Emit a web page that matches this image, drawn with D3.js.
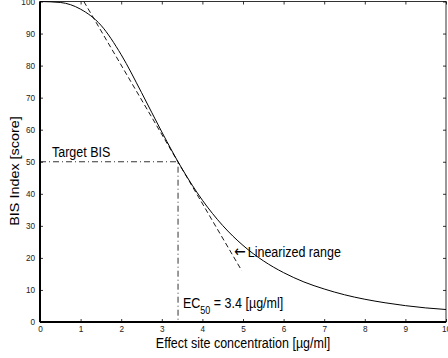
<!DOCTYPE html>
<html><head><meta charset="utf-8">
<script src="https://cdn.jsdelivr.net/npm/d3@7"></script>
<style>body{margin:0;background:#fff}svg{display:block}text{font-family:"Liberation Sans",Arial,sans-serif}</style>
</head><body>
<script>
const concentration = [0,0.5,1,1.5,2,2.5,3,3.5,4,4.5,5,5.5,6,6.5,7,7.5,8,8.5,9,9.5,10];
const bisValues = [100,99.7,97.6,92.6,83.4,71.6,59.3,47.8,38.0,30.1,23.9,19.1,15.4,12.5,10.3,8.5,7.1,6.0,5.1,4.4,3.9];
const tangentX = [1.08, 4.97];
const tangentY = [100, 16];
const ec50 = 3.4;
const targetBis = 50;
const xTicks = [0,1,2,3,4,5,6,7,8,9,10];
const yTicks = [0,10,20,30,40,50,60,70,80,90,100];

const W = 448, H = 358;
const L = 40, R = 446, T = 1.5, B = 322;
const SY = 1.15, FS = 12.5;
const svg = d3.select("body").append("svg").attr("width", W).attr("height", H);
const x = d3.scaleLinear().domain([0,10]).range([L,R]);
const y = d3.scaleLinear().domain([0,100]).range([B,T]);

// frame
svg.append("rect").attr("x",L).attr("y",T).attr("width",R-L).attr("height",B-T)
  .attr("fill","none").attr("stroke","#000").attr("stroke-width",0.8);
svg.append("line").attr("x1",L).attr("x2",R).attr("y1",B).attr("y2",B).attr("stroke","#000").attr("stroke-width",2);
svg.append("line").attr("x1",L).attr("x2",L).attr("y1",T).attr("y2",B).attr("stroke","#000").attr("stroke-width",2);

// axes
svg.append("g").attr("transform",`translate(0,${B})`)
  .call(d3.axisBottom(x).tickValues(xTicks).tickSize(-3).tickPadding(4.5).tickFormat(d3.format("d")));
svg.append("g").attr("transform",`translate(${L},0)`)
  .call(d3.axisLeft(y).tickValues(yTicks).tickSize(-3).tickPadding(5).tickFormat(d3.format("d")));
svg.append("g").attr("transform",`translate(0,${T})`)
  .call(d3.axisTop(x).tickValues(xTicks).tickSize(-3).tickFormat(""));
svg.append("g").attr("transform",`translate(${R},0)`)
  .call(d3.axisRight(y).tickValues(yTicks).tickSize(-3).tickFormat(""));
svg.selectAll(".domain").remove();
svg.selectAll(".tick line").attr("stroke","#000").attr("stroke-width",0.8);
svg.selectAll(".tick text").attr("font-size",8.2).attr("fill","#222").style("font-family","Liberation Sans, Arial, sans-serif");

// dash-dot target lines
svg.append("path").attr("d", d3.line()([[x(0),y(targetBis)],[x(ec50),y(targetBis)],[x(ec50),y(0)]]))
  .attr("fill","none").attr("stroke","#000").attr("stroke-width",0.8).attr("stroke-dasharray","6,3,1,3");

// tangent dashed
svg.append("line").attr("x1",x(tangentX[0])).attr("y1",y(tangentY[0])).attr("x2",x(tangentX[1])).attr("y2",y(tangentY[1]))
  .attr("stroke","#000").attr("stroke-width",0.9).attr("stroke-dasharray","5,3");

// curve
const pts = concentration.map((c,i)=>[c,bisValues[i]]);
svg.append("path").datum(pts).attr("fill","none").attr("stroke","#000").attr("stroke-width",1)
  .attr("d", d3.line().x(d=>x(d[0])).y(d=>y(d[1])).curve(d3.curveMonotoneX));

function txt(px, py, extra){
  return svg.append("text").attr("transform",`translate(${px},${py}) scale(1,${SY})${extra||""}`).attr("font-size",FS);
}
// annotations
txt(52,157).text("Target BIS");
const ec = txt(183,308);
ec.append("tspan").text("EC");
ec.append("tspan").attr("font-size",9).attr("dy",5).text("50");
ec.append("tspan").attr("dy",-5).text(" = 3.4 [\u00b5g/ml]");
const lin = txt(234,256.5);
lin.append("tspan").style("font-family","DejaVu Sans").attr("font-size",14).text("\u2190");
lin.append("tspan").attr("dx",2).text("Linearized range");

// axis labels
txt((L+R)/2,348).attr("text-anchor","middle").text("Effect site concentration [\u00b5g/ml]");
txt(19,171," rotate(-90)").attr("text-anchor","middle").text("BIS Index [score]");
</script>
</body></html>
